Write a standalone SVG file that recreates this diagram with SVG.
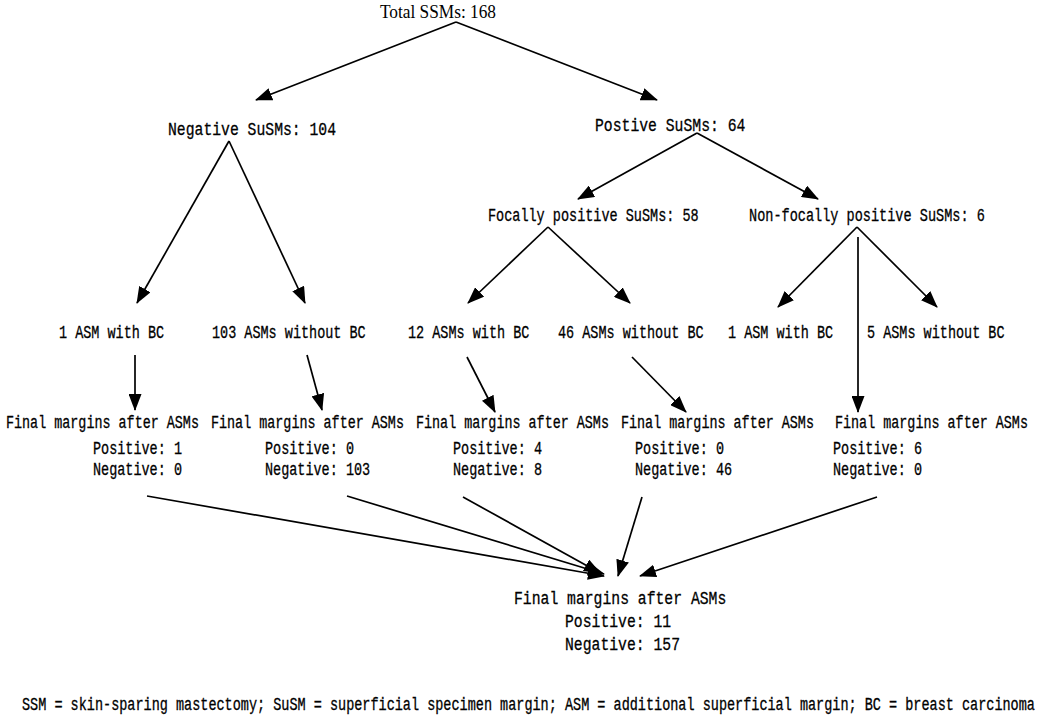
<svg xmlns="http://www.w3.org/2000/svg" width="1050" height="720" viewBox="0 0 1050 720">
<style>
  .t { font-family: "Liberation Mono", "DejaVu Sans Mono", monospace; font-size: 17.5px; fill: #000; stroke: #000; stroke-width: 0.3px; }
  .b { font-family: "Liberation Mono", "DejaVu Sans Mono", monospace; font-size: 19px; fill: #000; stroke: #000; stroke-width: 0.3px; }
  .s { font-family: "Liberation Serif", "Times New Roman", serif; font-size: 18px; fill: #000; }
  .c line { stroke: #000; stroke-width: 1.7; marker-end: url(#ah); }
</style>
<defs>
  <marker id="ah" markerWidth="17" markerHeight="13" refX="16" refY="6.5" orient="auto" markerUnits="userSpaceOnUse">
    <path d="M0,0 L17,6.5 L0,13 z" fill="#000"/>
  </marker>
</defs>
<rect width="1050" height="720" fill="#fff"/>
<g id="connectors" class="c">
  <line x1="456" y1="22" x2="256" y2="100"/>
  <line x1="456" y1="22" x2="657" y2="100"/>
  <line x1="229" y1="141" x2="137" y2="303"/>
  <line x1="229" y1="141" x2="305" y2="303"/>
  <line x1="697" y1="133" x2="578" y2="199"/>
  <line x1="697" y1="133" x2="818" y2="199"/>
  <line x1="548" y1="227" x2="468" y2="303"/>
  <line x1="548" y1="227" x2="630" y2="303"/>
  <line x1="857" y1="227" x2="778" y2="307"/>
  <line x1="857" y1="227" x2="937" y2="307"/>
  <line x1="858" y1="237" x2="858" y2="412"/>
  <line x1="135" y1="355" x2="135" y2="410"/>
  <line x1="307" y1="355" x2="322" y2="410"/>
  <line x1="467" y1="357" x2="495" y2="412"/>
  <line x1="632" y1="357" x2="686" y2="412"/>
  <line x1="147" y1="496" x2="604" y2="576"/>
  <line x1="347" y1="496" x2="604" y2="574"/>
  <line x1="463" y1="497" x2="600" y2="573"/>
  <line x1="642" y1="497" x2="618" y2="576"/>
  <line x1="877" y1="497" x2="640" y2="576"/>
</g>
<g id="total"><text class="s" x="380" y="18" textLength="116" lengthAdjust="spacingAndGlyphs">Total SSMs: 168</text></g>
<g id="neg"><text class="b" transform="translate(168,135) scale(0.776,1)">Negative SuSMs: 104</text></g>
<g id="pos"><text class="b" transform="translate(595,131) scale(0.776,1)">Postive SuSMs: 64</text></g>
<g id="focal"><text class="t" transform="translate(488,221) scale(0.772,1)">Focally positive SuSMs: 58</text></g>
<g id="nonfocal"><text class="t" transform="translate(749,221) scale(0.775,1)">Non-focally positive SuSMs: 6</text></g>
<g id="a1"><text class="t" transform="translate(59,338) scale(0.771,1)">1 ASM with BC</text></g>
<g id="a2"><text class="t" transform="translate(212,338) scale(0.771,1)">103 ASMs without BC</text></g>
<g id="a3"><text class="t" transform="translate(408,338) scale(0.771,1)">12 ASMs with BC</text></g>
<g id="a4"><text class="t" transform="translate(558,338) scale(0.771,1)">46 ASMs without BC</text></g>
<g id="a5"><text class="t" transform="translate(728,338) scale(0.771,1)">1 ASM with BC</text></g>
<g id="a6"><text class="t" transform="translate(867,338) scale(0.771,1)">5 ASMs without BC</text></g>
<g id="f1">
  <text class="t" transform="translate(6,428) scale(0.766,1)">Final margins after ASMs</text>
  <text class="t" transform="translate(93,454) scale(0.771,1)">Positive: 1</text>
  <text class="t" transform="translate(93,475) scale(0.771,1)">Negative: 0</text>
</g>
<g id="f2">
  <text class="t" transform="translate(211,428) scale(0.766,1)">Final margins after ASMs</text>
  <text class="t" transform="translate(265,454) scale(0.771,1)">Positive: 0</text>
  <text class="t" transform="translate(265,475) scale(0.771,1)">Negative: 103</text>
</g>
<g id="f3">
  <text class="t" transform="translate(416,428) scale(0.766,1)">Final margins after ASMs</text>
  <text class="t" transform="translate(453,454) scale(0.771,1)">Positive: 4</text>
  <text class="t" transform="translate(453,475) scale(0.771,1)">Negative: 8</text>
</g>
<g id="f4">
  <text class="t" transform="translate(621,428) scale(0.766,1)">Final margins after ASMs</text>
  <text class="t" transform="translate(635,454) scale(0.771,1)">Positive: 0</text>
  <text class="t" transform="translate(635,475) scale(0.771,1)">Negative: 46</text>
</g>
<g id="f5">
  <text class="t" transform="translate(835,428) scale(0.766,1)">Final margins after ASMs</text>
  <text class="t" transform="translate(833,454) scale(0.771,1)">Positive: 6</text>
  <text class="t" transform="translate(833,475) scale(0.771,1)">Negative: 0</text>
</g>
<g id="final">
  <text class="b" transform="translate(514,604) scale(0.776,1)">Final margins after ASMs</text>
  <text class="b" transform="translate(565,627) scale(0.776,1)">Positive: 11</text>
  <text class="b" transform="translate(565,650) scale(0.776,1)">Negative: 157</text>
</g>
<g id="footer"><text class="t" transform="translate(22,710) scale(0.772,1)">SSM = skin-sparing mastectomy; SuSM = superficial specimen margin; ASM = additional superficial margin; BC = breast carcinoma</text></g>
</svg>
